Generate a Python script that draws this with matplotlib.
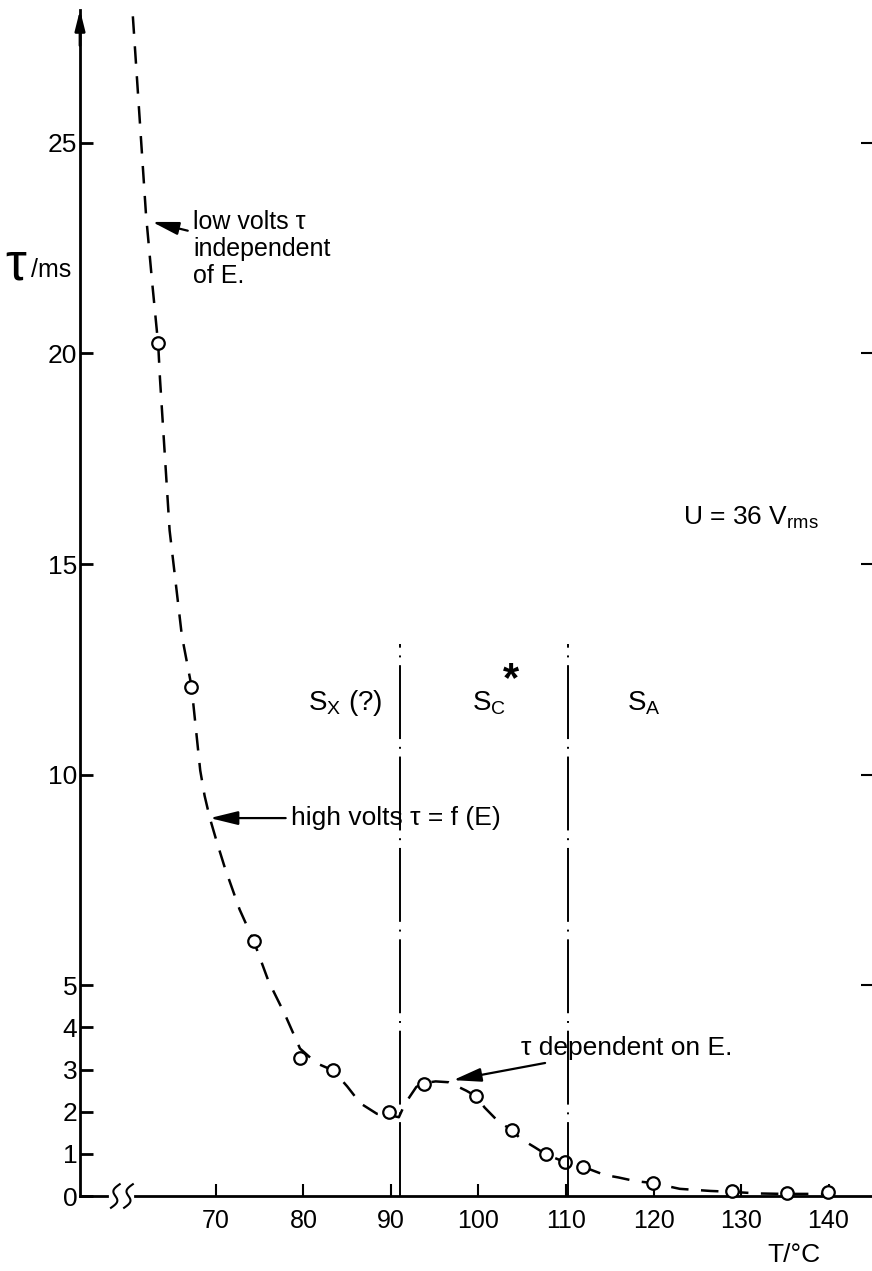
import numpy as np
import matplotlib
matplotlib.use("Agg")
import matplotlib.pyplot as plt

plt.rcParams['font.family'] = ['Liberation Sans', 'DejaVu Sans']
plt.rcParams['mathtext.fontset'] = 'custom'
plt.rcParams['mathtext.rm'] = 'Liberation Sans'

# measured points (T in degC, tau in ms)
meas_T = [63.4, 67.2, 74.3, 79.6, 83.4, 89.8, 93.8, 99.7, 103.8, 107.7,
          109.9, 112.0, 119.9, 129.0, 135.2, 139.9]
meas_tau = [20.24, 12.09, 6.06, 3.28, 2.98, 1.99, 2.67, 2.37, 1.57, 0.99,
            0.81, 0.69, 0.31, 0.13, 0.06, 0.10]

# dashed guide curve
curve_T = [60.5, 61.3, 62.0, 62.7, 63.4, 63.6, 64.7, 66.1, 67.2, 67.7, 68.2,
           68.7, 69.3, 70.1, 71.0, 72.7, 74.3, 76.0, 77.9, 79.6, 81.5, 83.4,
           85.0, 86.5, 88.4, 89.8, 90.9, 91.6, 92.9, 93.8, 95.1, 96.6, 98.6,
           99.7, 100.7, 102.3, 103.8, 104.8, 106.4, 107.7, 109.8, 112.0, 114.4,
           116.0, 118.0, 119.9, 123.0, 126.5, 128.8, 132.0, 135.0, 140.0]
curve_tau = [28.0, 25.5, 23.3, 21.7, 20.2, 19.4, 15.8, 13.3, 12.1, 11.1, 10.1,
             9.5, 8.97, 8.4, 7.8, 6.8, 6.06, 5.1, 4.3, 3.5, 3.15, 2.98,
             2.6, 2.2, 1.95, 1.92, 1.87, 2.19, 2.59, 2.68, 2.72, 2.70, 2.5,
             2.37, 2.1, 1.76, 1.57, 1.36, 1.16, 0.99, 0.81, 0.69, 0.5,
             0.44, 0.35, 0.31, 0.17, 0.12, 0.10, 0.06, 0.05, 0.05]

# phase boundaries
boundaries_T = [91.0, 110.2]
boundary_top = 13.1
phases = ['S$_\\mathregular{X}$ (?)', 'S$_\\mathregular{C}$', 'S$_\\mathregular{A}$']
phase_T = [80.5, 99.3, 117.0]

x_ticks = [70, 80, 90, 100, 110, 120, 130, 140]
y_ticks = [0, 1, 2, 3, 4, 5, 10, 15, 20, 25]
right_ticks = [5, 10, 15, 20, 25]

fig = plt.figure(figsize=(8.72, 12.71), dpi=100)
ax = fig.add_axes([80 / 872, 75 / 1271, 792 / 872, 1186 / 1271])
ax.set_xlim(54.46, 144.97)
ax.set_ylim(0, 28.15)

for s in ['top', 'right', 'bottom']:
    ax.spines[s].set_visible(False)
ax.spines['left'].set_linewidth(2)

# x axis with break
ax.plot([54.46, 57.5], [0, 0], color='k', lw=2, clip_on=False)
ax.plot([60.8, 144.97], [0, 0], color='k', lw=2, clip_on=False)
t = np.linspace(0, 1, 40)
for x0 in [58.5, 60.0]:
    ax.plot(x0 + 0.45 * np.sin(2 * np.pi * t) - 0.5 + t, -0.28 + 0.56 * t,
            color='k', lw=1.5, clip_on=False)

# y axis arrow
ax.annotate('', xy=(0, 1.0), xytext=(0, 0.97), xycoords='axes fraction',
            arrowprops=dict(arrowstyle='-|>,head_length=1.2,head_width=0.3',
                            lw=2, color='k', shrinkA=0, shrinkB=0))

ax.set_xticks(x_ticks)
ax.set_xticklabels([str(v) for v in x_ticks])
ax.set_yticks(y_ticks)
ax.set_yticklabels([str(v) for v in y_ticks])
ax.tick_params(axis='x', direction='in', length=9, width=1.5, pad=9, labelsize=18)
ax.tick_params(axis='y', direction='in', length=9, width=2, pad=2, labelsize=19)

ax2 = ax.twinx()
ax2.set_ylim(ax.get_ylim())
ax2.set_yticks(right_ticks)
ax2.set_yticklabels([])
ax2.tick_params(axis='y', direction='in', length=8, width=1.5)
for s in ax2.spines.values():
    s.set_visible(False)

ax.plot(curve_T, curve_tau, color='k', lw=1.8, ls=(0, (7, 5)))
ax.plot(meas_T, meas_tau, 'o', mfc='white', mec='k', mew=1.6, ms=9, clip_on=False)

ax.vlines(boundaries_T, 0, boundary_top, color='k', lw=1.4,
          linestyles=[(0, (38, 4, 1, 4))])
for lab, tx in zip(phases, phase_T):
    ax.text(tx, 11.7, lab, fontsize=20, va='center', ha='left')
ax.text(102.8, 12.25, '*', fontsize=30, fontweight='bold', va='center', ha='left')

arrow = dict(arrowstyle='-|>,head_length=0.9,head_width=0.22',
             lw=1.6, color='k', shrinkA=2, shrinkB=0)
ax.annotate('low volts τ\nindependent\nof E.', xy=(62.7, 23.12), xytext=(67.4, 23.4),
            fontsize=18, va='top', ha='left', linespacing=1.15, arrowprops=arrow)
ax.annotate('high volts τ = f (E)', xy=(69.3, 8.97), xytext=(78.6, 8.97),
            fontsize=19, va='center', ha='left', arrowprops=arrow)
ax.annotate('τ dependent on E.', xy=(97.1, 2.75), xytext=(104.9, 3.52),
            fontsize=19, va='center', ha='left', arrowprops=arrow)
ax.text(123.4, 16.1, 'U = 36 V$_\\mathregular{rms}$', fontsize=19, va='center', ha='left')

fig.text(5 / 872, 1 - 266 / 1271, 'τ', fontsize=38, va='center', ha='left')
fig.text(31 / 872, 1 - 270 / 1271, '/ms', fontsize=18, va='center', ha='left')
fig.text(767 / 872, 1 - 1255 / 1271, 'T/°C', fontsize=19, va='center', ha='left')

fig.savefig('out.png', dpi=100)
